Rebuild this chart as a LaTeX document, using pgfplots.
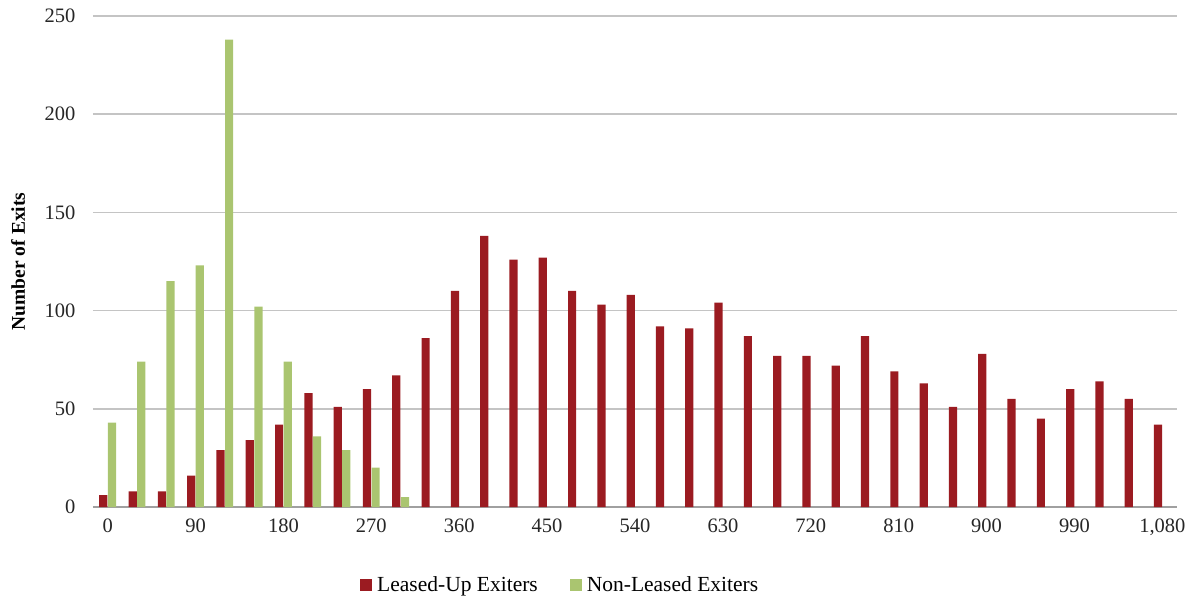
\documentclass[border=0pt]{standalone}
\usepackage{fontspec}
\setmainfont{Liberation Serif}
\usepackage{pgfplots}
\usepackage{pgfplotstable}
\pgfplotsset{compat=1.18}
\definecolor{leased}{HTML}{9B1B21}
\definecolor{nonleased}{HTML}{AAC570}
\definecolor{gridc}{HTML}{C4C4C4}
\definecolor{axc}{HTML}{A0A0A0}

\pgfplotstableread{
x y
0 6
30 8
60 8
90 16
120 29
150 34
180 42
210 58
240 51
270 60
300 67
330 86
360 110
390 138
420 126
450 127
480 110
510 103
540 108
570 92
600 91
630 104
660 87
690 77
720 77
750 72
780 87
810 69
840 63
870 51
900 78
930 55
960 45
990 60
1020 64
1050 55
1080 42
}\leasedtab

\pgfplotstableread{
x y
0 43
30 74
60 115
90 123
120 238
150 102
180 74
210 36
240 29
270 20
300 5
}\nonleasedtab

\begin{document}
\begin{tikzpicture}
\begin{axis}[
  scale only axis,
  width=1084pt, height=491pt,
  xmin=-15, xmax=1095,
  ymin=0, ymax=250,
  ytick={0,50,...,250},
  xtick={0,90,...,1080},
  xticklabels={0,90,180,270,360,450,540,630,720,810,900,990,{1,080}},
  axis x line*=bottom,
  axis y line*=left,
  y axis line style={draw=none},
  x axis line style={draw=axc, line width=2pt},
  ymajorgrids=true,
  grid style={draw=gridc, line width=1.5pt},
  major tick length=0pt,
  tick style={draw=none},
  /pgf/number format/assume math mode=true,
  ticklabel style={font=\fontsize{20.5}{24}\selectfont, text=black!85},
  yticklabel style={anchor=east, xshift=-14pt},
  xticklabel style={anchor=north, yshift=-8pt},
  ylabel={\textbf{Number of Exits}},
  every axis y label/.style={at={(axis description cs:-0.069,0.5)}, anchor=center, rotate=90, font=\fontsize{19.5}{23}\selectfont},
  legend columns=2,
  legend style={draw=none, fill=none, at={(axis description cs:0.431,-0.159)}, anchor=center,
    font=\fontsize{21.5}{24}\selectfont,
    /tikz/every even column/.append style={column sep=30pt}},
  legend image code/.code={\fill[#1] (0pt,-6pt) rectangle (12pt,6pt);},
  clip=false,
]
\addplot[ybar, bar width=8.4, bar shift=-4.4, fill=leased, draw=none] table[x=x,y=y]{\leasedtab};
\addlegendentry{\hspace{3pt}Leased-Up Exiters}
\addplot[ybar, bar width=8.4, bar shift=4.4, fill=nonleased, draw=none] table[x=x,y=y]{\nonleasedtab};
\addlegendentry{\hspace{3pt}Non-Leased Exiters}
\coordinate (sw) at (rel axis cs:0,0);
\end{axis}
\pgfresetboundingbox
\path (sw) ++(-93pt,-91pt) rectangle ++(1195pt,598pt);
\end{tikzpicture}
\end{document}
